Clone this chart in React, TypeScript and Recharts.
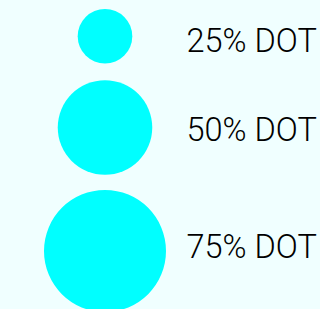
import React from "react";
import { ScatterChart, Scatter, XAxis, YAxis, ZAxis } from "recharts";

const labels = ["25% DOT", "50% DOT", "75% DOT"];
const percents = [25, 50, 75];
const dotX = [105, 105, 105];
const dotY = [36.3, 127.5, 251];
const labelX = [186.5, 186.5, 186.5];
const labelY = [51.5, 140.5, 258.2];

const dots = percents.map((p, i) => ({ x: dotX[i], y: dotY[i], z: p, label: labels[i] }));
const texts = labels.map((l, i) => ({ x: labelX[i], y: labelY[i], label: l }));

const LabelShape = (props: any) => (
  <text
    x={props.cx}
    y={props.cy}
    textAnchor="start"
    fontFamily="Roboto"
    fontWeight={300}
    fontSize={32.5}
    fill="#000000"
  >
    {props.payload.label}
  </text>
);

export default function App() {
  return (
    <div style={{ position: "absolute", left: 0, top: 0, width: 320, height: 309, background: "#F0FFFF" }}>
      <ScatterChart width={320} height={309} margin={{ top: 0, right: 0, bottom: 0, left: 0 }}>
        <XAxis type="number" dataKey="x" domain={[0, 320]} hide />
        <YAxis type="number" dataKey="y" domain={[0, 309]} reversed hide />
        <ZAxis type="number" dataKey="z" domain={[25, 75]} range={[2341, 11690]} />
        <Scatter data={dots} fill="#00FFFF" isAnimationActive={false} />
        <Scatter data={texts} shape={LabelShape} isAnimationActive={false} />
      </ScatterChart>
    </div>
  );
}
